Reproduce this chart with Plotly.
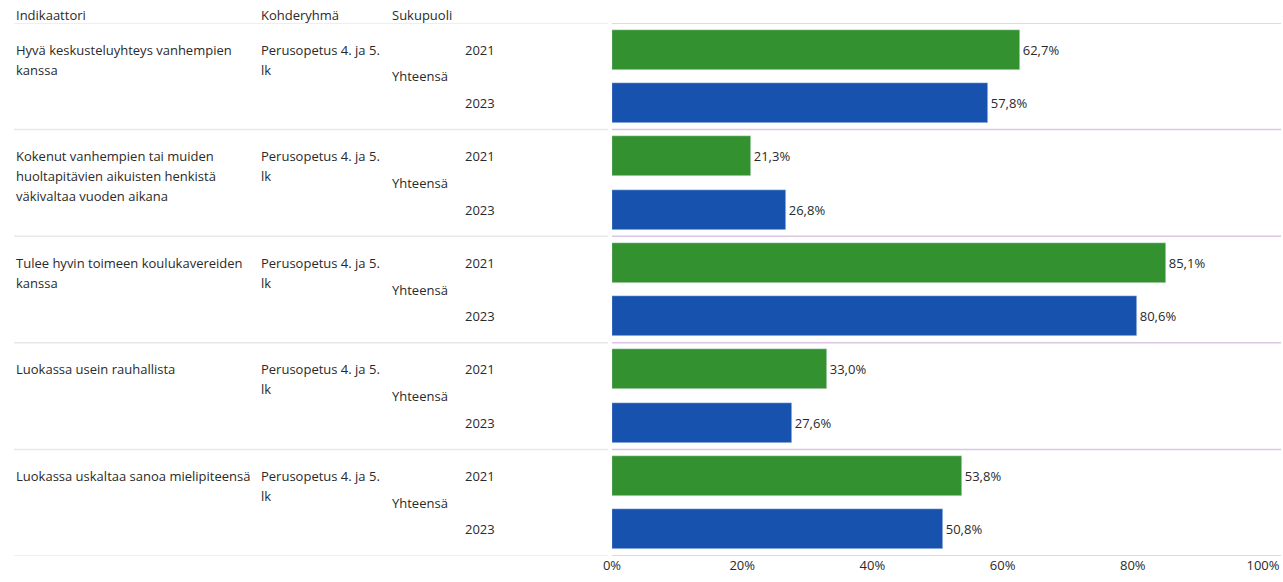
import plotly.graph_objects as go

W, H = 1283, 582
OX, OY = 0, 0
FW, FH = W - OX, H - OY

indicators = [
    ["Hyvä keskusteluyhteys vanhempien", "kanssa"],
    ["Kokenut vanhempien tai muiden", "huoltapitävien aikuisten henkistä", "väkivaltaa vuoden aikana"],
    ["Tulee hyvin toimeen koulukavereiden", "kanssa"],
    ["Luokassa usein rauhallista"],
    ["Luokassa uskaltaa sanoa mielipiteensä"],
]
target_group = ["Perusopetus 4. ja 5.", "lk"]
gender = "Yhteensä"
years = ["2021", "2023"]
values_2021 = [62.7, 21.3, 85.1, 33.0, 53.8]
values_2023 = [57.8, 26.8, 80.6, 27.6, 50.8]
x_ticks = [0, 20, 40, 60, 80, 100]
x_tick_labels = ["0%", "20%", "40%", "60%", "80%", "100%"]
headers = ["Indikaattori", "Kohderyhmä", "Sukupuoli"]

GREEN = "#33922f"
BLUE = "#1652ae"
TXT = "#2a2a2a"
FONT = "Open Sans"
FS = 13

n = len(indicators)
pos_2021 = [2 * i for i in range(n)]
pos_2023 = [2 * i + 1 for i in range(n)]

fig = go.Figure()
for pos, vals, col, yr in [(pos_2021, values_2021, GREEN, years[0]),
                           (pos_2023, values_2023, BLUE, years[1])]:
    fig.add_trace(go.Bar(
        y=pos, x=vals, orientation="h", marker_color=col,
        width=0.75, texttemplate="%{x:.1f}%", textposition="outside",
        textfont=dict(family=FONT, size=FS, color=TXT), cliponaxis=False,
        name=yr, showlegend=False, hoverinfo="x",
    ))

def px_x(p):
    return (p - OX) / FW

def px_y(p):
    return 1 - (p - OY) / FH

top_px, bot_px = 23, 556
left_px, right_px = 612, 1263
unit_px = (bot_px - top_px) / (2 * n)
line_step = 20 / unit_px

ann = []
def add(text, xpx, y, yref="y"):
    ann.append(dict(text=text, x=px_x(xpx), xref="paper", y=y, yref=yref,
                    xanchor="left", yanchor="middle", showarrow=False,
                    font=dict(family=FONT, size=FS, color=TXT)))

hx = [14, 259, 390]
for h, xp in zip(headers, hx):
    add(h, xp, px_y(15), yref="paper")

shapes = []
for i in range(n):
    for k, line in enumerate(indicators[i]):
        add(line, 14, 2 * i + k * line_step)
    for k, line in enumerate(target_group):
        add(line, 259, 2 * i + k * line_step)
    add(gender, 390, 2 * i + 0.5)
    add(years[0], 463, 2 * i)
    add(years[1], 463, 2 * i + 1)

for b in range(n + 1):
    yb = 2 * b - 0.5
    shapes.append(dict(type="line", xref="paper", yref="y", x0=px_x(14), x1=px_x(608),
                       y0=yb, y1=yb, line=dict(color="#e8e8ec", width=1.5)))
    shapes.append(dict(type="line", xref="paper", yref="y", x0=px_x(left_px), x1=px_x(1281),
                       y0=yb, y1=yb, line=dict(color="#dcc6e4", width=1.5)))

fig.update_layout(
    width=FW, height=FH,
    margin=dict(l=0, r=0, t=0, b=0),
    paper_bgcolor="white", plot_bgcolor="white",
    separators=", ",
    bargap=0,
    xaxis=dict(domain=[px_x(left_px), px_x(right_px)], range=[0, 100],
               tickvals=x_ticks, ticktext=x_tick_labels, showgrid=False, zeroline=False,
               showline=False, ticks="", automargin=False,
               tickfont=dict(family=FONT, size=FS, color=TXT)),
    yaxis=dict(domain=[px_y(bot_px), px_y(top_px)], range=[2 * n - 0.5, -0.5],
               showticklabels=False, showgrid=False, zeroline=False, ticks="",
               automargin=False),
    annotations=ann, shapes=shapes,
)

fig.write_html("out.html", config={"displayModeBar": False},
               post_script="document.body.style.margin='0px';document.body.style.overflow='hidden';")
